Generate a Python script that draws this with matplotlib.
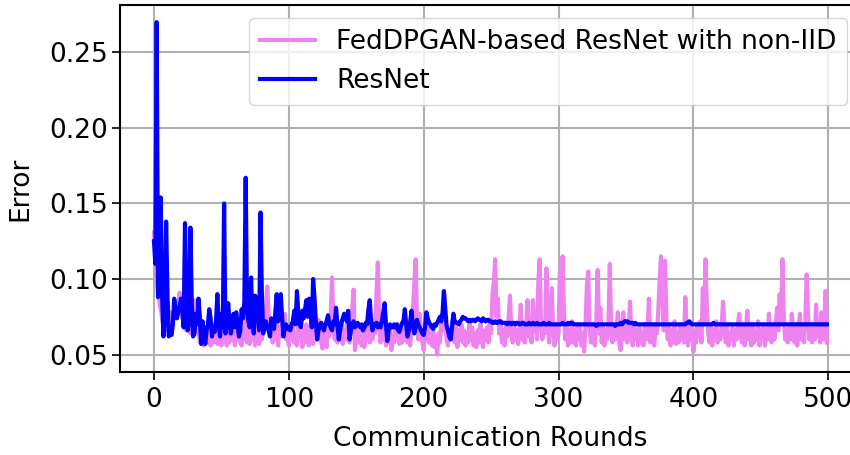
###########################################################################################################################
# Error per communication round: FedDPGAN-based ResNet (non-IID) vs plain ResNet
###########################################################################################################################

###########################################################################################################################
# Imports
import numpy as np
import matplotlib
matplotlib.use("Agg")
import matplotlib.pyplot as plt

###########################################################################################################################
# Data (error values, in thousandths, one per round 0..499)
resnet_err = [
    125, 110, 270,  88, 100, 154,  90,  62,  75, 138,
     90,  62,  66,  63,  70,  87,  80,  74,  78,  82,
     87,  80,  68, 137,  90,  66,  72, 134,  85,  62,
     64,  77,  70,  87,  75,  57,  72,  65,  57,  66,
     70,  80,  74,  62,  68,  65,  72,  90,  70,  62,
     77,  68, 150,  64,  70,  84,  72,  64,  70,  77,
     68,  78,  70,  62,  66,  80,  74,  85, 167,  80,
     72,  68, 101,  75,  64,  89,  80,  74,  66, 144,
     90,  64,  70,  72,  68,  66,  62,  74,  70,  67,
     78,  90,  72,  77,  90,  75,  62,  68,  70,  67,
     68,  66,  70,  72,  79,  70,  92,  78,  70,  68,
     79,  74,  80,  86,  75,  87,  80,  68, 100,  88,
     72,  60,  66,  70,  71,  68,  66,  70,  72,  76,
     70,  68,  66,  72,  70,  81,  70,  60,  66,  71,
     74,  77,  74,  72,  79,  60,  66,  70,  72,  68,
     70,  71,  69,  68,  70,  66,  68,  71,  70,  80,
     86,  72,  66,  70,  69,  71,  68,  70,  68,  72,
     78,  84,  70,  59,  66,  70,  68,  68,  70,  68,
     70,  66,  65,  68,  71,  72,  80,  70,  62,  66,
     72,  79,  70,  64,  68,  73,  70,  68,  66,  64,
     63,  68,  78,  74,  71,  70,  68,  67,  70,  69,
     71,  73,  75,  72,  78,  92,  80,  69,  66,  62,
     60,  68,  77,  72,  71,  71,  70,  72,  73,  75,
     74,  74,  73,  72,  73,  72,  73,  73,  72,  73,
     74,  73,  73,  72,  74,  73,  72,  73,  73,  72,
     72,  71,  71,  72,  71,  71,  72,  72,  71,  71,
     71,  71,  70,  71,  71,  70,  71,  71,  70,  71,
     71,  70,  70,  71,  71,  70,  70,  70,  71,  70,
     70,  71,  70,  70,  71,  70,  70,  70,  70,  71,
     70,  70,  70,  71,  70,  70,  70,  70,  70,  70,
     70,  70,  70,  71,  70,  70,  70,  71,  70,  71,
     71,  70,  70,  70,  70,  70,  70,  70,  70,  70,
     70,  70,  70,  70,  70,  70,  70,  70,  69,  70,
     70,  70,  70,  70,  70,  70,  70,  70,  70,  70,
     70,  70,  69,  70,  70,  70,  71,  70,  71,  72,
     72,  72,  71,  71,  71,  71,  70,  71,  70,  70,
     70,  70,  70,  70,  70,  70,  70,  70,  70,  70,
     70,  70,  70,  70,  70,  70,  70,  70,  70,  70,
     70,  70,  70,  70,  70,  70,  70,  70,  70,  70,
     70,  70,  70,  70,  70,  71,  71,  72,  71,  70,
     70,  70,  70,  70,  70,  70,  70,  70,  70,  70,
     70,  70,  70,  70,  70,  71,  70,  70,  70,  70,
     70,  70,  70,  70,  70,  70,  70,  70,  70,  70,
     70,  70,  70,  70,  70,  70,  70,  70,  70,  70,
     70,  70,  70,  70,  70,  70,  70,  70,  70,  70,
     70,  70,  70,  70,  70,  70,  70,  70,  70,  70,
     70,  70,  70,  70,  70,  70,  70,  70,  70,  70,
     70,  70,  70,  70,  70,  70,  70,  70,  70,  70,
     70,  70,  70,  70,  70,  70,  70,  70,  70,  70,
     70,  70,  70,  70,  70,  70,  70,  70,  70,  70,
]

feddpgan_err = [
    131, 118, 100,  90,  85,  80,  74,  68,  72,  66,
     70,  74,  78,  68,  72,  80,  84,  76,  82,  91,
     84,  74,  78,  70,  66,  72,  68,  64,  76,  70,
     86,  72,  64,  68,  58,  66,  60,  56,  64,  58,
     68,  60,  56,  66,  58,  70,  62,  57,  66,  60,
     56,  64,  70,  60,  56,  66,  58,  72,  60,  64,
     56,  66,  60,  70,  58,  56,  66,  60,  74,  58,
     66,  57,  70,  60,  64,  56,  68,  62,  57,  72,
     60,  70,  66,  80,  95,  76,  64,  70,  58,  66,
     60,  72,  56,  68,  62,  74,  66,  77,  60,  64,
     56,  68,  60,  70,  58,  64,  56,  72,  60,  64,
     55,  66,  58,  70,  60,  56,  68,  62,  57,  66,
     70,  60,  73,  64,  58,  54,  66,  60,  55,  70,
     62,  75, 101,  72,  60,  68,  58,  66,  60,  72,
     57,  66,  60,  70,  62,  58,  68,  80,  93,  53,
     64,  58,  70,  62,  56,  68,  55,  66,  60,  70,
     58,  66,  60,  72,  64,  90, 111,  70,  58,  66,
     60,  70,  56,  66,  58,  68,  53,  62,  58,  68,
     60,  70,  57,  64,  58,  66,  60,  72,  58,  64,
     56,  68,  80,  95, 113,  75,  60,  77,  64,  58,
     53,  66,  60,  70,  58,  64,  56,  68,  55,  62,
     50,  64,  58,  70,  66,  92,  72,  60,  56,  66,
     62,  72,  64,  58,  68,  55,  66,  60,  70,  58,
     66,  56,  64,  58,  70,  60,  68,  56,  64,  55,
     66,  58,  70,  62,  55,  66,  60,  68,  58,  70,
     64,  90,  98, 113,  75,  87,  64,  72,  58,  66,
     56,  70,  62,  74,  89,  64,  58,  70,  60,  66,
     57,  68,  83,  60,  70,  58,  66,  86,  62,  70,
     58,  86,  66,  72,  60,  98, 113,  70,  60,  68,
     64, 107,  76,  58,  72,  94,  66,  56,  70,  60,
     64, 105,  72, 115,  78,  60,  70,  56,  66,  58,
     72,  58,  66,  56,  70,  60,  68,  56,  64,  52,
     70,  96, 105,  68,  58,  70,  60,  56,  72, 106,
     64,  81,  58,  68,  56,  66,  60,  70, 110,  66,
     58,  70,  60,  66,  78,  58,  53,  66,  78,  60,
     70,  58,  66,  85,  64,  56,  70,  60,  66,  56,
     68,  58,  64,  56,  70,  60,  66,  87,  58,  68,
     60,  56,  70,  64,  80, 100, 115,  86,  66, 112,
     72,  60,  68,  56,  66,  58,  72,  57,  64,  58,
     70,  60,  66,  58,  88,  64,  56,  70,  60,  66,
     52,  66,  58,  70,  62,  72,  58,  94,  70, 113,
     80,  64,  58,  70,  56,  66,  60,  72,  58,  64,
     60,  70,  85,  66,  58,  70,  56,  64,  60,  68,
     56,  66,  60,  70,  77,  62,  58,  68,  56,  66,
     79,  60,  68,  56,  70,  58,  64,  60,  72,  56,
     66,  60,  68,  56,  64,  60,  77,  62,  58,  70,
     60,  68,  81,  66,  90,  70, 113,  76,  60,  66,
     58,  68,  60,  77,  64,  58,  70,  56,  66,  77,
     60,  68,  58,  72, 103,  76,  60,  70,  58,  66,
     60,  83,  62,  70,  58,  78,  66,  60,  92,  58,
]

rounds = np.arange(len(resnet_err))
labels = ["FedDPGAN-based ResNet with non-IID", "ResNet"]
yticks = [0.05, 0.10, 0.15, 0.20, 0.25]
xticks = [0, 100, 200, 300, 400, 500]

###########################################################################################################################
# Plot
fs = 19
fig = plt.figure(figsize=(8.5, 4.55), dpi=100)
# axes runs past the right edge of the figure, as in the (cropped) reference
ax = fig.add_axes([0.1415, 0.1825, 0.871, 0.8065])

ax.plot(rounds, np.array(feddpgan_err) / 1000, color="violet", linewidth=3.0, label=labels[0])
ax.plot(rounds, np.array(resnet_err) / 1000, color="blue", linewidth=3.0, label=labels[1])

ax.set_xlim(-25, 524)
ax.set_ylim(0.0385, 0.2813)
ax.set_xticks(xticks)
ax.set_yticks(yticks)
ax.set_xlabel("Communication Rounds", fontsize=fs, labelpad=9)
ax.set_ylabel("Error", fontsize=fs, labelpad=11)
ax.tick_params(labelsize=fs, length=5.5, width=1.2)
ax.tick_params(axis="x", pad=5.5)
for s in ax.spines.values():
    s.set_linewidth(1.5)
ax.grid(True, color="#b0b0b0", linewidth=1.5)
ax.set_axisbelow(True)
ax.legend(loc="upper right", fontsize=fs, handlelength=2.1)

## Save
fig.savefig("out.png", dpi=100)
